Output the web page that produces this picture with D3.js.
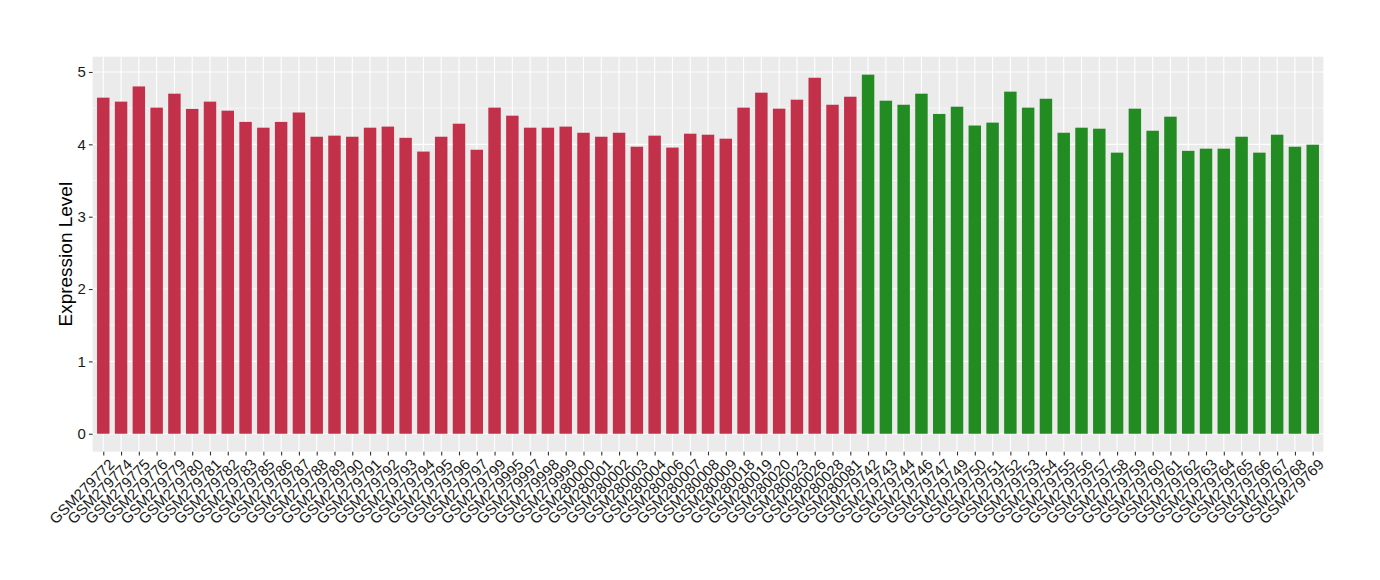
<!DOCTYPE html>
<html>
<head>
<meta charset="utf-8">
<script src="https://cdn.jsdelivr.net/npm/d3@7"></script>
<style>
  body { margin: 0; background: #fff; }
  text { font-family: "Liberation Sans", Arial, sans-serif; }
</style>
</head>
<body>
<div id="chart"></div>
<script>
// samples in plot order
const redSamples = ["GSM279772","GSM279774","GSM279775","GSM279776","GSM279779","GSM279780","GSM279781","GSM279782","GSM279783","GSM279785","GSM279786","GSM279787","GSM279788","GSM279789","GSM279790","GSM279791","GSM279792","GSM279793","GSM279794","GSM279795","GSM279796","GSM279797","GSM279799","GSM279995","GSM279997","GSM279998","GSM279999","GSM280000","GSM280001","GSM280002","GSM280003","GSM280004","GSM280006","GSM280007","GSM280008","GSM280009","GSM280018","GSM280019","GSM280020","GSM280023","GSM280026","GSM280028","GSM280081"];
const redValues = [4.645,4.59,4.80,4.507,4.70,4.49,4.59,4.465,4.31,4.23,4.31,4.44,4.105,4.12,4.105,4.23,4.245,4.09,3.90,4.105,4.285,3.925,4.507,4.396,4.23,4.23,4.245,4.16,4.105,4.16,3.967,4.12,3.955,4.147,4.133,4.078,4.507,4.714,4.493,4.617,4.92,4.547,4.658];

const greenSamples = ["GSM279742","GSM279743","GSM279744","GSM279746","GSM279747","GSM279749","GSM279750","GSM279751","GSM279752","GSM279753","GSM279754","GSM279755","GSM279756","GSM279757","GSM279758","GSM279759","GSM279760","GSM279761","GSM279762","GSM279763","GSM279764","GSM279765","GSM279766","GSM279767","GSM279768","GSM279769"];
const greenValues = [4.963,4.603,4.547,4.70,4.42,4.52,4.26,4.30,4.728,4.507,4.63,4.16,4.23,4.216,3.885,4.493,4.188,4.382,3.91,3.94,3.94,4.105,3.885,4.133,3.967,3.995];

const yTicks = [0, 1, 2, 3, 4, 5];
const groupColor = { red: "#C23149", green: "#228B22" };

const data = redSamples.map((s, i) => ({ sample: s, value: redValues[i], group: "red" }))
  .concat(greenSamples.map((s, i) => ({ sample: s, value: greenValues[i], group: "green" })));

const W = 1380, H = 580;
const panel = { left: 92.6, right: 1323.4, top: 56.7, bottom: 451.7 };

const svg = d3.select("#chart").append("svg")
  .attr("width", W).attr("height", H);

// x: discrete positions, ggplot-style 0.6 expansion
const x = d3.scalePoint()
  .domain(data.map(d => d.sample))
  .range([panel.left, panel.right])
  .padding(0.6);
const barW = x.step() * 0.7;

// y: 5% expansion around [0, max]
const yMax = d3.max(data, d => d.value);
const pad = yMax * 0.05;
const y = d3.scaleLinear()
  .domain([-pad, yMax + pad])
  .range([panel.bottom, panel.top]);

// panel background
svg.append("rect")
  .attr("x", panel.left).attr("y", panel.top)
  .attr("width", panel.right - panel.left)
  .attr("height", panel.bottom - panel.top)
  .attr("fill", "#EBEBEB");

// minor grid
const minor = d3.range(0.5, 5.5, 1).filter(v => y(v) > panel.top);
svg.append("g").selectAll("line").data(minor).join("line")
  .attr("x1", panel.left).attr("x2", panel.right)
  .attr("y1", d => y(d)).attr("y2", d => y(d))
  .attr("stroke", "#fff").attr("stroke-width", 0.55);

// major grid
svg.append("g").selectAll("line").data(yTicks).join("line")
  .attr("x1", panel.left).attr("x2", panel.right)
  .attr("y1", d => y(d)).attr("y2", d => y(d))
  .attr("stroke", "#fff").attr("stroke-width", 1.1);
svg.append("g").selectAll("line").data(data).join("line")
  .attr("x1", d => x(d.sample)).attr("x2", d => x(d.sample))
  .attr("y1", panel.top).attr("y2", panel.bottom)
  .attr("stroke", "#fff").attr("stroke-width", 1.1);

// bars
svg.append("g").selectAll("rect").data(data).join("rect")
  .attr("x", d => x(d.sample) - barW / 2)
  .attr("width", barW)
  .attr("y", d => y(d.value))
  .attr("height", d => y(0) - y(d.value))
  .attr("fill", d => groupColor[d.group]);

// y axis
const yAxis = svg.append("g")
  .attr("transform", `translate(${panel.left},0)`)
  .call(d3.axisLeft(y).tickValues(yTicks).tickFormat(d3.format("d")).tickSize(3.7).tickPadding(3));
yAxis.select(".domain").remove();
yAxis.selectAll(".tick line").attr("stroke", "#333").attr("stroke-width", 1.1);
yAxis.selectAll(".tick text")
  .attr("fill", "#1a1a1a").attr("font-size", 15);

// x axis
const xAxis = svg.append("g")
  .attr("transform", `translate(0,${panel.bottom})`)
  .call(d3.axisBottom(x).tickSize(3.7).tickSizeOuter(0));
xAxis.select(".domain").remove();
xAxis.selectAll(".tick line").attr("stroke", "#333").attr("stroke-width", 1.1);
xAxis.selectAll(".tick text")
  .attr("fill", "#1a1a1a")
  .attr("font-size", 15)
  .attr("text-anchor", "end")
  .attr("x", 0).attr("y", 0).attr("dy", "0.72em")
  .attr("transform", "translate(4,6) rotate(-45)");

// y title
svg.append("text")
  .attr("transform", `translate(72,${(panel.top + panel.bottom) / 2}) rotate(-90)`)
  .attr("text-anchor", "middle")
  .attr("font-size", 19)
  .attr("fill", "#000")
  .text("Expression Level");
</script>
</body>
</html>
